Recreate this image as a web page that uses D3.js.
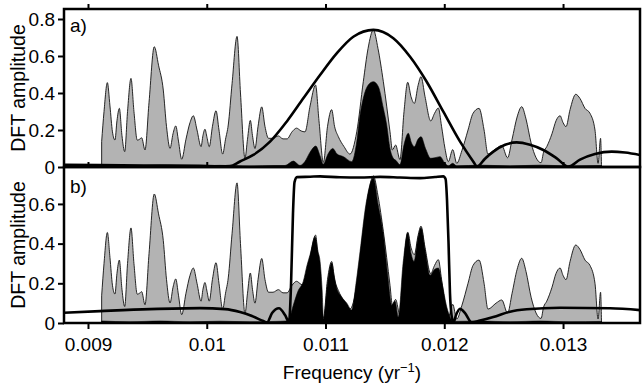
<!DOCTYPE html>
<html>
<head>
<meta charset="utf-8">
<script src="https://cdn.jsdelivr.net/npm/d3@7"></script>
<style>
  html, body { margin: 0; padding: 0; background: #fff; }
  svg { display: block; font-family: "Liberation Sans", Arial, Helvetica, sans-serif; }
</style>
</head>
<body>
<svg id="chart" width="642" height="388"></svg>
<script>
// DFT amplitude of the raw record: [frequency (yr^-1), amplitude]
const spectrum = [
  [0.009115, 0.137], [0.009135, 0.30], [0.009163, 0.456], [0.009185, 0.33], [0.009206, 0.19],
  [0.009227, 0.146], [0.009244, 0.25], [0.009264, 0.317], [0.009286, 0.17], [0.009309, 0.083],
  [0.009333, 0.30], [0.009362, 0.479], [0.009387, 0.30], [0.009415, 0.145], [0.009434, 0.15],
  [0.009452, 0.158], [0.009480, 0.092], [0.009514, 0.35], [0.009558, 0.65], [0.009594, 0.55],
  [0.009634, 0.416], [0.009661, 0.22], [0.009691, 0.101], [0.009716, 0.18], [0.009739, 0.222],
  [0.009762, 0.14], [0.009789, 0.042], [0.009825, 0.15], [0.009859, 0.24], [0.009887, 0.277],
  [0.009918, 0.20], [0.009952, 0.11], [0.009968, 0.17], [0.009985, 0.204], [0.010002, 0.16],
  [0.010021, 0.11], [0.010048, 0.22], [0.010078, 0.304], [0.010103, 0.20], [0.010134, 0.07],
  [0.010158, 0.15], [0.010181, 0.227], [0.010213, 0.45], [0.010255, 0.706], [0.010284, 0.40],
  [0.010322, 0.047], [0.010343, 0.15], [0.010367, 0.252], [0.010385, 0.17], [0.010406, 0.10],
  [0.010432, 0.22], [0.010463, 0.325], [0.010490, 0.22], [0.010520, 0.155], [0.010558, 0.155],
  [0.010603, 0.168], [0.010642, 0.152], [0.010676, 0.152], [0.010718, 0.19], [0.010756, 0.21],
  [0.010794, 0.195], [0.010827, 0.19], [0.010870, 0.33], [0.010916, 0.443], [0.010945, 0.25],
  [0.010982, 0.025], [0.011017, 0.22], [0.011052, 0.31], [0.011076, 0.22], [0.011108, 0.164],
  [0.011156, 0.11], [0.011206, 0.07], [0.011263, 0.19], [0.011318, 0.461], [0.011358, 0.64],
  [0.011403, 0.741], [0.011442, 0.64], [0.011487, 0.461], [0.011543, 0.19], [0.011563, 0.092],
  [0.011590, 0.119], [0.011627, 0.04], [0.011661, 0.30], [0.011692, 0.458], [0.011720, 0.38],
  [0.011748, 0.344], [0.011779, 0.44], [0.011804, 0.488], [0.011838, 0.38], [0.011886, 0.249],
  [0.011918, 0.29], [0.011950, 0.319], [0.011977, 0.22], [0.012006, 0.10], [0.012034, 0.029],
  [0.012071, 0.094], [0.012105, 0.02], [0.012149, 0.09], [0.012200, 0.20], [0.012242, 0.29],
  [0.012293, 0.317], [0.012335, 0.20], [0.012368, 0.07], [0.012436, 0.10], [0.012484, 0.116],
  [0.012533, 0.05], [0.012571, 0.15], [0.012613, 0.27], [0.012652, 0.326], [0.012688, 0.26],
  [0.012731, 0.13], [0.012773, 0.05], [0.012815, 0.023], [0.012836, 0.08], [0.012863, 0.11],
  [0.012907, 0.18], [0.012941, 0.25], [0.012975, 0.277], [0.013000, 0.24], [0.013025, 0.218],
  [0.013059, 0.31], [0.013107, 0.393], [0.013143, 0.37], [0.013185, 0.317], [0.013227, 0.29],
  [0.013269, 0.20], [0.013295, 0.02], [0.013316, 0.155], [0.013324, 0.0]
];

// DFT amplitude after the Gaussian filter (panel a)
const filteredGauss = [
  [0.009115, 0.010], [0.009354, 0.006], [0.009606, 0.010], [0.009859, 0.006], [0.010112, 0.009],
  [0.010364, 0.005], [0.010575, 0.008], [0.010659, 0.008], [0.010729, 0.032], [0.010785, 0.008],
  [0.010827, 0.03], [0.010870, 0.08], [0.010918, 0.113], [0.010954, 0.06], [0.010982, 0.015],
  [0.011021, 0.07], [0.011061, 0.10], [0.011097, 0.07], [0.011150, 0.056], [0.011221, 0.029],
  [0.011263, 0.137], [0.011291, 0.281], [0.011318, 0.371], [0.011360, 0.443], [0.011403, 0.461],
  [0.011445, 0.434], [0.011487, 0.317], [0.011515, 0.227], [0.011543, 0.10], [0.011571, 0.047],
  [0.011594, 0.035], [0.011627, 0.012], [0.011661, 0.12], [0.011697, 0.182], [0.011724, 0.13],
  [0.011748, 0.11], [0.011779, 0.15], [0.011804, 0.164], [0.011842, 0.10], [0.011886, 0.047],
  [0.011922, 0.05], [0.011964, 0.056], [0.012006, 0.02], [0.012034, 0.006], [0.012071, 0.02],
  [0.012105, 0.006], [0.012301, 0.010], [0.012554, 0.006], [0.012806, 0.010], [0.013059, 0.006],
  [0.013324, 0.008]
];

// DFT amplitude after the band-pass filter (panel b)
const filteredBand = [
  [0.009115, 0.010], [0.009354, 0.006], [0.009606, 0.010], [0.009859, 0.006], [0.010112, 0.009],
  [0.010364, 0.006], [0.010575, 0.008], [0.010667, 0.010], [0.010693, 0.02], [0.010729, 0.09],
  [0.010768, 0.16], [0.010813, 0.21], [0.010844, 0.29], [0.010870, 0.344], [0.010912, 0.433],
  [0.010937, 0.36], [0.010954, 0.31], [0.010971, 0.17], [0.010983, 0.02], [0.011017, 0.20],
  [0.011052, 0.302], [0.011072, 0.24], [0.011094, 0.176], [0.011131, 0.135], [0.011179, 0.10],
  [0.011221, 0.065], [0.011257, 0.20], [0.011291, 0.361], [0.011341, 0.60], [0.011403, 0.73],
  [0.011442, 0.60], [0.011487, 0.445], [0.011522, 0.25], [0.011558, 0.09], [0.011585, 0.11],
  [0.011613, 0.03], [0.011653, 0.30], [0.011692, 0.453], [0.011720, 0.35], [0.011745, 0.311],
  [0.011779, 0.43], [0.011804, 0.48], [0.011838, 0.37], [0.011880, 0.24], [0.011918, 0.27],
  [0.011950, 0.277], [0.011981, 0.20], [0.012021, 0.08], [0.012048, 0.03], [0.012074, 0.008],
  [0.012301, 0.010], [0.012554, 0.006], [0.012806, 0.010], [0.013059, 0.006], [0.013324, 0.008]
];

// Filter responses, scaled to the spectrum peak
const responseGauss = [
  [0.008798, 0.012], [0.009101, 0.010], [0.009522, 0.008], [0.009943, 0.006], [0.010112, 0.004],
  [0.010196, 0.005], [0.010280, 0.03], [0.010392, 0.065], [0.010533, 0.137], [0.010673, 0.245],
  [0.010813, 0.371], [0.010954, 0.497], [0.011094, 0.614], [0.011234, 0.704], [0.011403, 0.741],
  [0.011571, 0.696], [0.011712, 0.596], [0.011852, 0.461], [0.011992, 0.299], [0.012133, 0.137],
  [0.012245, 0.029], [0.012276, 0.002], [0.012343, 0.045], [0.012413, 0.083], [0.012512, 0.12],
  [0.012610, 0.133], [0.012722, 0.12], [0.012834, 0.092], [0.012947, 0.047], [0.013045, 0.002],
  [0.013143, 0.04], [0.013269, 0.07], [0.013410, 0.083], [0.013522, 0.078], [0.013648, 0.065]
];

const responseBand = [
  [0.008798, 0.052], [0.009101, 0.06], [0.009522, 0.07], [0.009943, 0.075], [0.010154, 0.07],
  [0.010280, 0.055], [0.010381, 0.035], [0.010476, 0.01], [0.010507, 0.003], [0.010550, 0.05],
  [0.010608, 0.074], [0.010659, 0.04], [0.010693, 0.005], [0.010710, 0.2], [0.010726, 0.55],
  [0.010739, 0.71], [0.010760, 0.735], [0.010870, 0.737], [0.010954, 0.739], [0.011122, 0.734],
  [0.011291, 0.733], [0.011459, 0.736], [0.011627, 0.733], [0.011796, 0.730], [0.011922, 0.736],
  [0.011992, 0.739], [0.012011, 0.725], [0.012023, 0.62], [0.012036, 0.40], [0.012048, 0.15],
  [0.012061, 0.04], [0.012078, 0.003], [0.012099, 0.04], [0.012133, 0.072], [0.012175, 0.05],
  [0.012231, 0.003], [0.012301, 0.012], [0.012413, 0.03], [0.012554, 0.057], [0.012694, 0.069],
  [0.012975, 0.077], [0.013396, 0.074], [0.013648, 0.065]
];

const xTickValues = [0.009, 0.010, 0.011, 0.012, 0.013];
const xTickLabels = ["0.009", "0.01", "0.011", "0.012", "0.013"];
const yTicksA = [0, 0.2, 0.4, 0.6, 0.8];
const yTickLabelsA = ["0", "0.2", "0.4", "0.6", "0.8"];
const yTicksB = [0, 0.2, 0.4, 0.6];
const yTickLabelsB = ["0", "0.2", "0.4", "0.6"];
const panelNames = ["a)", "b)"];

const svg = d3.select("#chart");
const left = 64, right = 640;
const fontSize = 19;
const titleSize = 19.5;

const x = d3.scaleLinear().domain([0.008798, 0.013648]).range([left, right]);

const panels = [
  { name: panelNames[0], top: 9, bottom: 167, yMax: 0.854, filtered: filteredGauss,
    response: responseGauss, ticks: yTicksA, labels: yTickLabelsA, labelY: 32 },
  { name: panelNames[1], top: 167, bottom: 323, yMax: 0.786, filtered: filteredBand,
    response: responseBand, ticks: yTicksB, labels: yTickLabelsB, labelY: 193 }
];

panels.forEach((p, i) => {
  const y = d3.scaleLinear().domain([0, p.yMax]).range([p.bottom, p.top]);
  const g = svg.append("g");

  const clipId = "clip" + i;
  svg.append("clipPath").attr("id", clipId)
    .append("rect").attr("x", left).attr("y", p.top)
    .attr("width", right - left).attr("height", p.bottom - p.top);

  const plot = g.append("g").attr("clip-path", `url(#${clipId})`);

  const area = d3.area()
    .x(d => x(d[0])).y0(y(0)).y1(d => y(d[1]))
    .curve(d3.curveMonotoneX);
  const line = d3.line()
    .x(d => x(d[0])).y(d => y(d[1]))
    .curve(d3.curveMonotoneX);

  plot.append("path").datum(spectrum)
    .attr("d", area)
    .attr("fill", "#b3b3b3")
    .attr("stroke", "#111")
    .attr("stroke-width", 0.9)
    .attr("stroke-linejoin", "round");

  plot.append("path").datum(p.filtered)
    .attr("d", area)
    .attr("fill", "#000")
    .attr("stroke", "#000")
    .attr("stroke-width", 0.6);

  plot.append("path").datum(p.response)
    .attr("d", line)
    .attr("fill", "none")
    .attr("stroke", "#000")
    .attr("stroke-width", 2.6)
    .attr("stroke-linejoin", "round");

  // left axis
  const yAxis = d3.axisLeft(y)
    .tickValues(p.ticks)
    .tickFormat((d, k) => p.labels[k])
    .tickSize(6)
    .tickPadding(3);
  const ya = g.append("g").attr("transform", `translate(${left},0)`).call(yAxis);
  ya.select(".domain").remove();
  ya.selectAll("line").attr("stroke", "#000").attr("stroke-width", 2);
  ya.selectAll("text").attr("fill", "#000").style("font-size", fontSize + "px")
    .style("font-family", "inherit");

  // y title
  g.append("text")
    .attr("transform", `translate(25,${(p.top + p.bottom) / 2}) rotate(-90)`)
    .attr("text-anchor", "middle")
    .style("font-size", titleSize + "px")
    .text("DFT amplitude");

  // panel tag
  g.append("text")
    .attr("x", 70).attr("y", p.labelY)
    .style("font-size", fontSize + "px")
    .text(p.name);

  // frame
  g.append("rect")
    .attr("x", left).attr("y", p.top)
    .attr("width", right - left).attr("height", p.bottom - p.top)
    .attr("fill", "none").attr("stroke", "#000").attr("stroke-width", 2.5);
});

// top ticks of panel a
const topAxis = svg.append("g").attr("transform", `translate(0,${panels[0].top})`)
  .call(d3.axisTop(x).tickValues(xTickValues).tickSize(5).tickFormat(""));
// ticks on the shared border
const midAxis = svg.append("g").attr("transform", `translate(0,${panels[0].bottom})`)
  .call(d3.axisTop(x).tickValues(xTickValues).tickSize(5).tickFormat(""));
// bottom axis with labels
const bottomAxis = svg.append("g").attr("transform", `translate(0,${panels[1].bottom})`)
  .call(d3.axisBottom(x).tickValues(xTickValues)
    .tickFormat((d, k) => xTickLabels[k]).tickSize(6).tickPadding(9));

[topAxis, midAxis, bottomAxis].forEach(a => {
  a.select(".domain").remove();
  a.selectAll("line").attr("stroke", "#000").attr("stroke-width", 2);
  a.selectAll("text").attr("fill", "#000").style("font-size", fontSize + "px")
    .style("font-family", "inherit");
});

// x title
const xt = svg.append("text")
  .attr("x", (left + right) / 2).attr("y", 379)
  .attr("text-anchor", "middle")
  .style("font-size", fontSize + "px");
xt.append("tspan").text("Frequency (yr");
xt.append("tspan").attr("dy", -7).style("font-size", "13px").text("\u22121");
xt.append("tspan").attr("dy", 7).text(")");
</script>
</body>
</html>
